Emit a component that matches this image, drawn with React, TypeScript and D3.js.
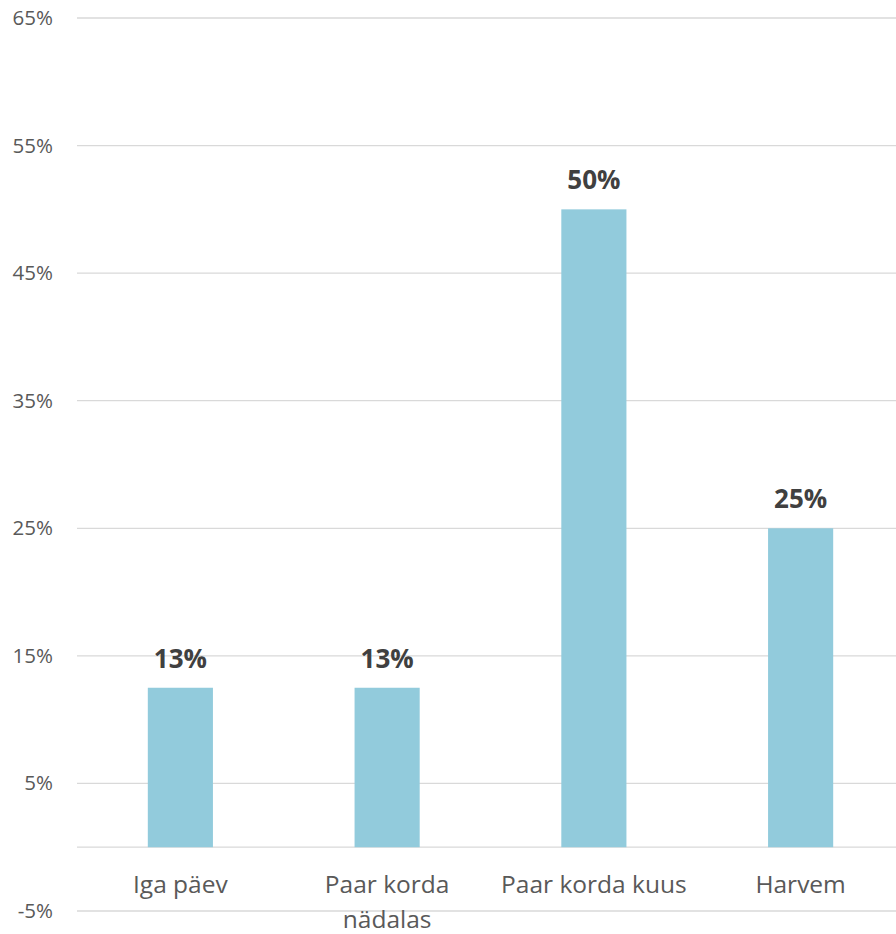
import React from "react";
import * as d3 from "d3";

const categories = ["Iga päev", "Paar korda nädalas", "Paar korda kuus", "Harvem"];
const values = [12.5, 12.5, 50, 25];
const yTicks = [-5, 5, 15, 25, 35, 45, 55, 65];

const W = 896;
const H = 934;
const FONT = "'Open Sans', 'DejaVu Sans', sans-serif";

function wrap(text: string, maxW: number, font: string): string[] {
  const c = document.createElement("canvas").getContext("2d");
  if (!c) return [text];
  c.font = font;
  const words = text.split(" ");
  const lines: string[] = [];
  let cur = "";
  for (const w of words) {
    const t = cur ? cur + " " + w : w;
    if (cur && c.measureText(t).width > maxW) {
      lines.push(cur);
      cur = w;
    } else cur = t;
  }
  if (cur) lines.push(cur);
  return lines;
}

export default function App() {
  const y = d3.scaleLinear().domain([-5, 65]).range([911, 18]);
  const x = d3
    .scaleBand<string>()
    .domain(categories)
    .range([77, 904])
    .paddingInner(0.685)
    .paddingOuter(0.3425);
  const catFont = `24.5px ${FONT}`;
  return (
    <svg
      width={W}
      height={H}
      style={{ position: "absolute", left: 0, top: 0, background: "#fff" }}
    >
      {yTicks.map((t) => (
        <g key={t}>
          <line x1={77} x2={W} y1={y(t)} y2={y(t)} stroke="#D9D9D9" strokeWidth={1.3} />
          <text
            x={53}
            y={y(t) + 7}
            textAnchor="end"
            fontFamily={FONT}
            fontSize={20.5}
            fill="#595959"
          >
            {t}%
          </text>
        </g>
      ))}
      <line x1={77} x2={W} y1={y(0)} y2={y(0)} stroke="#D9D9D9" strokeWidth={1.3} />
      {categories.map((c, i) => {
        const bx = x(c) as number;
        const bw = x.bandwidth();
        const v = values[i];
        const cx = bx + bw / 2;
        const lines = wrap(c, x.step(), catFont);
        return (
          <g key={c}>
            <rect x={bx} y={y(v)} width={bw} height={y(0) - y(v)} fill="#92CBDC" />
            <text
              x={cx}
              y={y(v) - 20}
              textAnchor="middle"
              fontFamily={FONT}
              fontSize={26}
              fontWeight="bold"
              fill="#404040"
            >
              {Math.round(v)}%
            </text>
            {lines.map((l, j) => (
              <text
                key={j}
                x={cx}
                y={893 + j * 35}
                textAnchor="middle"
                fontFamily={FONT}
                fontSize={24.5}
                fill="#595959"
              >
                {l}
              </text>
            ))}
          </g>
        );
      })}
    </svg>
  );
}
